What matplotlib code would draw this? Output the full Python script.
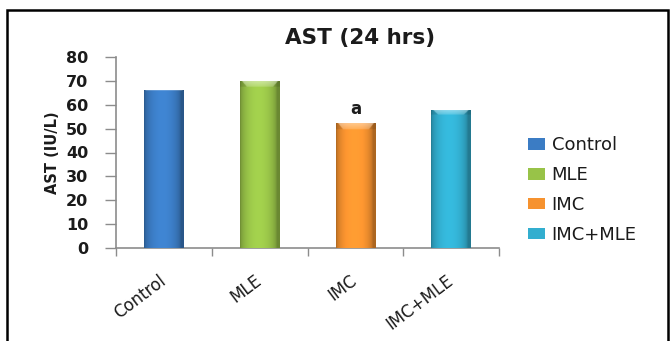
import numpy as np
import matplotlib
matplotlib.use("Agg")
import matplotlib.pyplot as plt
from matplotlib.patches import Rectangle
from matplotlib.colors import to_rgb

# AST levels after 24 hours, per treatment group
groups = ["Control", "MLE", "IMC", "IMC+MLE"]
ast_values = [66, 70, 52.5, 58]
annotations = ["", "", "a", ""]
y_ticks = [0, 10, 20, 30, 40, 50, 60, 70, 80]

bar_colors = ["#3B7CC4", "#98C348", "#F6922F", "#32AECF"]
text_color = "#1b1b1b"
axis_color = "#8c8c8c"

plt.rcParams["font.family"] = ["DejaVu Sans"]

fig = plt.figure(figsize=(6.70, 3.41), dpi=100)
fig.patch.set_facecolor("white")

# outer frame of the chart area
frame = Rectangle((7 / 670, -0.05), (668 - 7) / 670, (341 - 10) / 341 + 0.05,
                  transform=fig.transFigure, fill=False, edgecolor="black",
                  linewidth=1.8, zorder=10)
fig.patches.append(frame)

ax = fig.add_axes([116 / 670, (341 - 248) / 341, 383 / 670, 191 / 341])
x = np.arange(len(groups))
bars = ax.bar(x, ast_values, width=0.41, color=bar_colors, zorder=2)


def shaded_bar(ax, bar, color):
    """Paint a bar with a cylinder-like horizontal shading and a bevelled top."""
    base = np.array(to_rgb(color))
    nx, ny = 80, 400
    u = np.linspace(0, 1, nx)
    # brightness across the bar: darker at both edges, slightly more on the right
    prof = 0.70 + 0.38 * np.sin(np.pi * np.clip(u * 1.08, 0, 1)) ** 0.5
    img = np.ones((ny, nx, 3)) * base
    img = img * prof[None, :, None]
    x0, w, h = bar.get_x(), bar.get_width(), bar.get_height()
    # light trapezoid bevel at the top (about 8 px high)
    px_per_unit = ax.transData.transform((0, 1))[1] - ax.transData.transform((0, 0))[1]
    bevel = 8.0 / px_per_unit
    yy = np.linspace(h, 0, ny)
    for j in np.where((h - yy) < bevel)[0]:
        frac = (h - yy[j]) / bevel
        inset = 0.03 + 0.14 * frac
        mask = (u > inset) & (u < 1 - inset)
        lighten = 0.30 * (1 - frac) + 0.18
        img[j, mask] = img[j, mask] + (1 - img[j, mask]) * lighten
        img[j, ~mask] = img[j, ~mask] * 0.9
    img = np.clip(img, 0, 1)
    im = ax.imshow(img, extent=(x0, x0 + w, 0, h), aspect="auto",
                   interpolation="bilinear", zorder=3)
    im.set_clip_path(bar)


for bar, c in zip(bars, bar_colors):
    shaded_bar(ax, bar, c)

for bar, note in zip(bars, annotations):
    if note:
        ax.text(bar.get_x() + bar.get_width() / 2, bar.get_height() + 2.0, note,
                ha="center", va="bottom", fontsize=12, fontweight="bold",
                color=text_color)

ax.set_xlim(-0.5, len(groups) - 0.5)
ax.set_ylim(0, 80)
ax.set_yticks(y_ticks)
ax.set_yticklabels([str(v) for v in y_ticks], fontsize=11.5, fontweight="bold",
                   color=text_color)
ax.set_xticks(np.arange(-0.5, len(groups), 1.0))
ax.set_xticklabels([])
ax.set_xticks(x, minor=True)
ax.set_xticklabels(groups, minor=True, rotation=37, ha="right", va="center",
                   rotation_mode="anchor", fontsize=12, color=text_color)
ax.tick_params(axis="x", which="major", length=6, color=axis_color, width=1)
ax.tick_params(axis="x", which="minor", length=0, pad=22)
ax.tick_params(axis="y", length=8, color=axis_color, width=1, pad=12)

for side in ("top", "right"):
    ax.spines[side].set_visible(False)
for side in ("left", "bottom"):
    ax.spines[side].set_color(axis_color)
    ax.spines[side].set_linewidth(1.2)

ax.set_ylabel("AST (IU/L)", fontsize=10.5, fontweight="bold", color=text_color)
ax.yaxis.set_label_coords(-0.146, 0.5)

fig.text(360 / 670, 1 - 38 / 341, "AST (24 hrs)", ha="center", va="center",
         fontsize=15.5, fontweight="bold", color=text_color)

handles = [Rectangle((0, 0), 1, 1, facecolor=c, edgecolor="none") for c in bar_colors]
fig.legend(handles, groups, loc="upper left",
           bbox_to_anchor=(512 / 670, 1 - 120 / 341), frameon=False,
           fontsize=13, handlelength=0.9, handleheight=0.6, handletextpad=0.4,
           labelspacing=0.66, labelcolor=text_color)

fig.savefig("out.png", dpi=100)
